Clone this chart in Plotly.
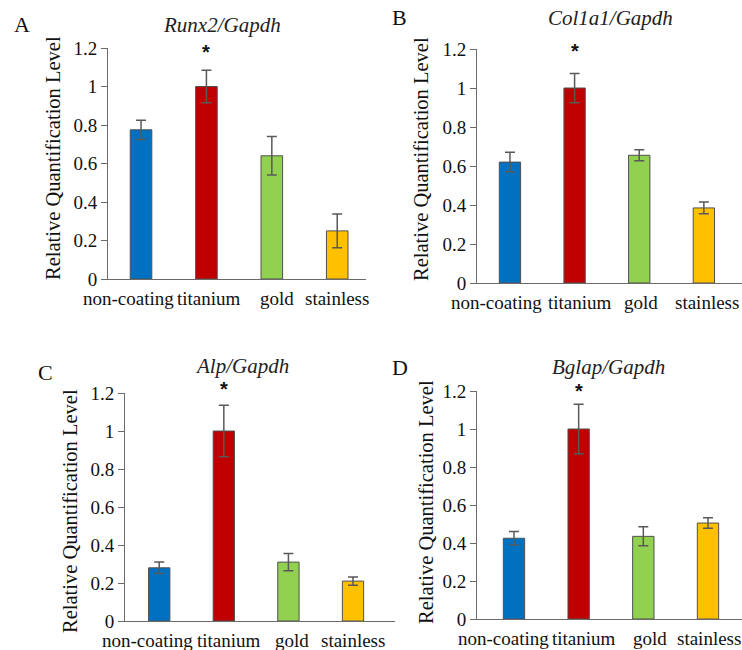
import plotly.graph_objects as go

categories = ["non-coating", "titanium", "gold", "stainless"]
colors = ["#0070C0", "#C00000", "#92D050", "#FFC000"]

runx2 = [0.775, 1.0, 0.64, 0.25]
runx2_err = [0.05, 0.085, 0.10, 0.088]
col1a1 = [0.62, 1.0, 0.655, 0.385]
col1a1_err = [0.05, 0.075, 0.028, 0.03]
alp = [0.28, 1.0, 0.31, 0.21]
alp_err = [0.03, 0.135, 0.045, 0.022]
bglap = [0.425, 1.0, 0.435, 0.505]
bglap_err = [0.035, 0.13, 0.05, 0.028]

titles = ["Runx2/Gapdh", "Col1a1/Gapdh", "Alp/Gapdh", "Bglap/Gapdh"]
letters = ["A", "B", "C", "D"]
ytitle = "Relative Quantification Level"

W, H = 742, 650
SERIF = "Liberation Serif"

# panel geometry (pixels)
panels = [
    dict(x0=108, x1=366, yt=48, yb=279, xr=[-0.505, 3.44], star_shift=-4,
         lab_shift=[-13, 3, 5, 0],
         title=(222, 25), letter=(22, 25), yt_pos=(53, 158)),
    dict(x0=477, x1=742, yt=49, yb=283, xr=[-0.51, 3.59], star_shift=-2,
         lab_shift=[-13, 5, 2, 3],
         title=(610, 18), letter=(399, 17), yt_pos=(421, 159)),
    dict(x0=125, x1=395, yt=393, yb=621, xr=[-0.53, 3.65], star_shift=4,
         lab_shift=[-12, 5, 4, 0],
         title=(242, 366), letter=(45, 372), yt_pos=(70, 511)),
    dict(x0=477, x1=742, yt=391, yb=619, xr=[-0.572, 3.526], star_shift=0,
         lab_shift=[-10, 5, 7, 1],
         title=(608, 367), letter=(400, 367), yt_pos=(426, 502)),
]

values = [runx2, col1a1, alp, bglap]
errors = [runx2_err, col1a1_err, alp_err, bglap_err]

fig = go.Figure()
annotations = []
layout = {}
for i, (p, v, e) in enumerate(zip(panels, values, errors)):
    n = "" if i == 0 else str(i + 1)
    fig.add_trace(go.Bar(
        x=categories, y=v,
        error_y=dict(type="data", array=e, visible=True, color="#595959",
                     thickness=1.5, width=5),
        marker=dict(color=colors, line=dict(color="#505050", width=1)),
        width=0.33,
        xaxis="x" + n, yaxis="y" + n, showlegend=False,
    ))
    layout["xaxis" + n] = dict(
        domain=[p["x0"] / W, min(p["x1"] / W, 1.0)],
        anchor="y" + n, type="category", range=p["xr"],
        showline=True, linecolor="#6a6a6a", linewidth=1,
        ticks="", showticklabels=False, automargin=False,
        showgrid=False, zeroline=False, fixedrange=True,
    )
    layout["yaxis" + n] = dict(
        domain=[1 - p["yb"] / H, 1 - p["yt"] / H],
        anchor="x" + n, range=[0, 1.2], dtick=0.2, tick0=0,
        showline=True, linecolor="#6a6a6a", linewidth=1, automargin=False,
        ticks="outside", ticklen=6, tickcolor="#6a6a6a",
        tickfont=dict(family=SERIF, size=19, color="#111"),
        showgrid=False, zeroline=False,
    )
    for cat, sh in zip(categories, p["lab_shift"]):
        annotations.append(dict(
            x=cat, y=0, xref="x" + n, yref="y" + n, xshift=sh, yshift=-19,
            text=cat, showarrow=False, xanchor="center", yanchor="middle",
            font=dict(family=SERIF, size=19, color="#111"),
        ))
    annotations.append(dict(
        x="titanium", y=1.2, xref="x" + n, yref="y" + n, yshift=p["star_shift"],
        text="<b>*</b>", showarrow=False, yanchor="middle",
        font=dict(family="Liberation Sans", size=20, color="#111"),
    ))
    annotations.append(dict(
        x=p["title"][0] / W, y=1 - p["title"][1] / H, xref="paper", yref="paper",
        text="<i>" + titles[i] + "</i>", showarrow=False,
        xanchor="center", yanchor="middle",
        font=dict(family=SERIF, size=21, color="#222"),
    ))
    annotations.append(dict(
        x=p["letter"][0] / W, y=1 - p["letter"][1] / H, xref="paper", yref="paper",
        text=letters[i], showarrow=False, xanchor="center", yanchor="middle",
        font=dict(family=SERIF, size=22, color="#111"),
    ))
    annotations.append(dict(
        x=p["yt_pos"][0] / W, y=1 - p["yt_pos"][1] / H, xref="paper", yref="paper",
        text=ytitle, showarrow=False, textangle=-90,
        xanchor="center", yanchor="middle",
        font=dict(family=SERIF, size=20.5, color="#111"),
    ))

fig.update_layout(
    width=W, height=H, margin=dict(l=0, r=0, t=0, b=0),
    paper_bgcolor="white", plot_bgcolor="white",
    annotations=annotations, bargap=0.67,
    **layout,
)
fig.write_html("out.html", config={"displayModeBar": False},
               post_script="document.body.style.margin='0';document.body.style.overflow='hidden';")
